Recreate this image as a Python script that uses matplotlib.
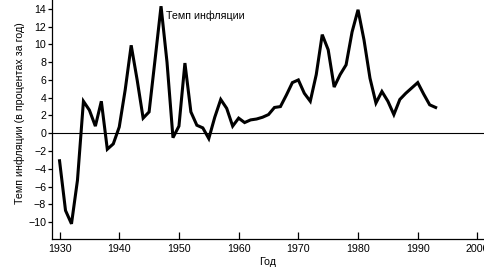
import matplotlib
matplotlib.use("Agg")
import matplotlib.pyplot as plt

# Годы и темп инфляции (% за год)
years = list(range(1930, 1994))
inflation = [
    -3.1, -8.7, -10.2, -5.3, 3.6, 2.6, 0.8, 3.6, -1.8, -1.2,
    0.7, 4.9, 9.9, 6.0, 1.7, 2.4, 8.3, 14.3, 8.0, -0.5,
    0.8, 7.9, 2.4, 0.9, 0.6, -0.6, 1.8, 3.8, 2.8, 0.8,
    1.7, 1.2, 1.5, 1.6, 1.8, 2.1, 2.9, 3.0, 4.3, 5.7,
    6.0, 4.5, 3.6, 6.6, 11.1, 9.4, 5.2, 6.6, 7.7, 11.4,
    13.9, 10.5, 6.2, 3.4, 4.7, 3.6, 2.1, 3.8, 4.5, 5.1,
    5.7, 4.4, 3.2, 2.9,
]
yticks = list(range(-10, 15, 2))
xticks = list(range(1930, 2001, 10))

plt.rcParams['font.family'] = ['Liberation Sans', 'DejaVu Sans']
FS = 7.7

fig = plt.figure(figsize=(4.84, 2.74), dpi=100)
ax = fig.add_axes([0.107, 0.128, 0.893, 0.872])

ax.plot(years, inflation, color="black", lw=2.2, solid_joinstyle="miter")
ax.axhline(0, color="black", lw=0.8)

ax.set_xlim(1928.7, 2001.1)
ax.set_ylim(-11.9, 15.0)
ax.set_xticks(xticks)
ax.set_yticks(yticks)
ax.set_yticklabels([str(v).replace("-", "\u2212") for v in yticks])

for s in ("top", "right"):
    ax.spines[s].set_visible(False)
for s in ("left", "bottom"):
    ax.spines[s].set_linewidth(0.9)

ax.tick_params(axis="x", direction="in", length=5, width=0.9, labelsize=FS, pad=3.5)
ax.tick_params(axis="y", direction="out", length=3, width=0.9, labelsize=FS, pad=1)

ax.set_xlabel("Год", fontsize=FS, labelpad=2)
ax.set_ylabel("Темп инфляции (в процентах за год)", fontsize=FS)
ax.yaxis.set_label_coords(-0.061, 0.525)

ax.text(1947.9, 13.2, "Темп инфляции", fontsize=FS, va="center", ha="left")

fig.savefig("out.png", dpi=100)
